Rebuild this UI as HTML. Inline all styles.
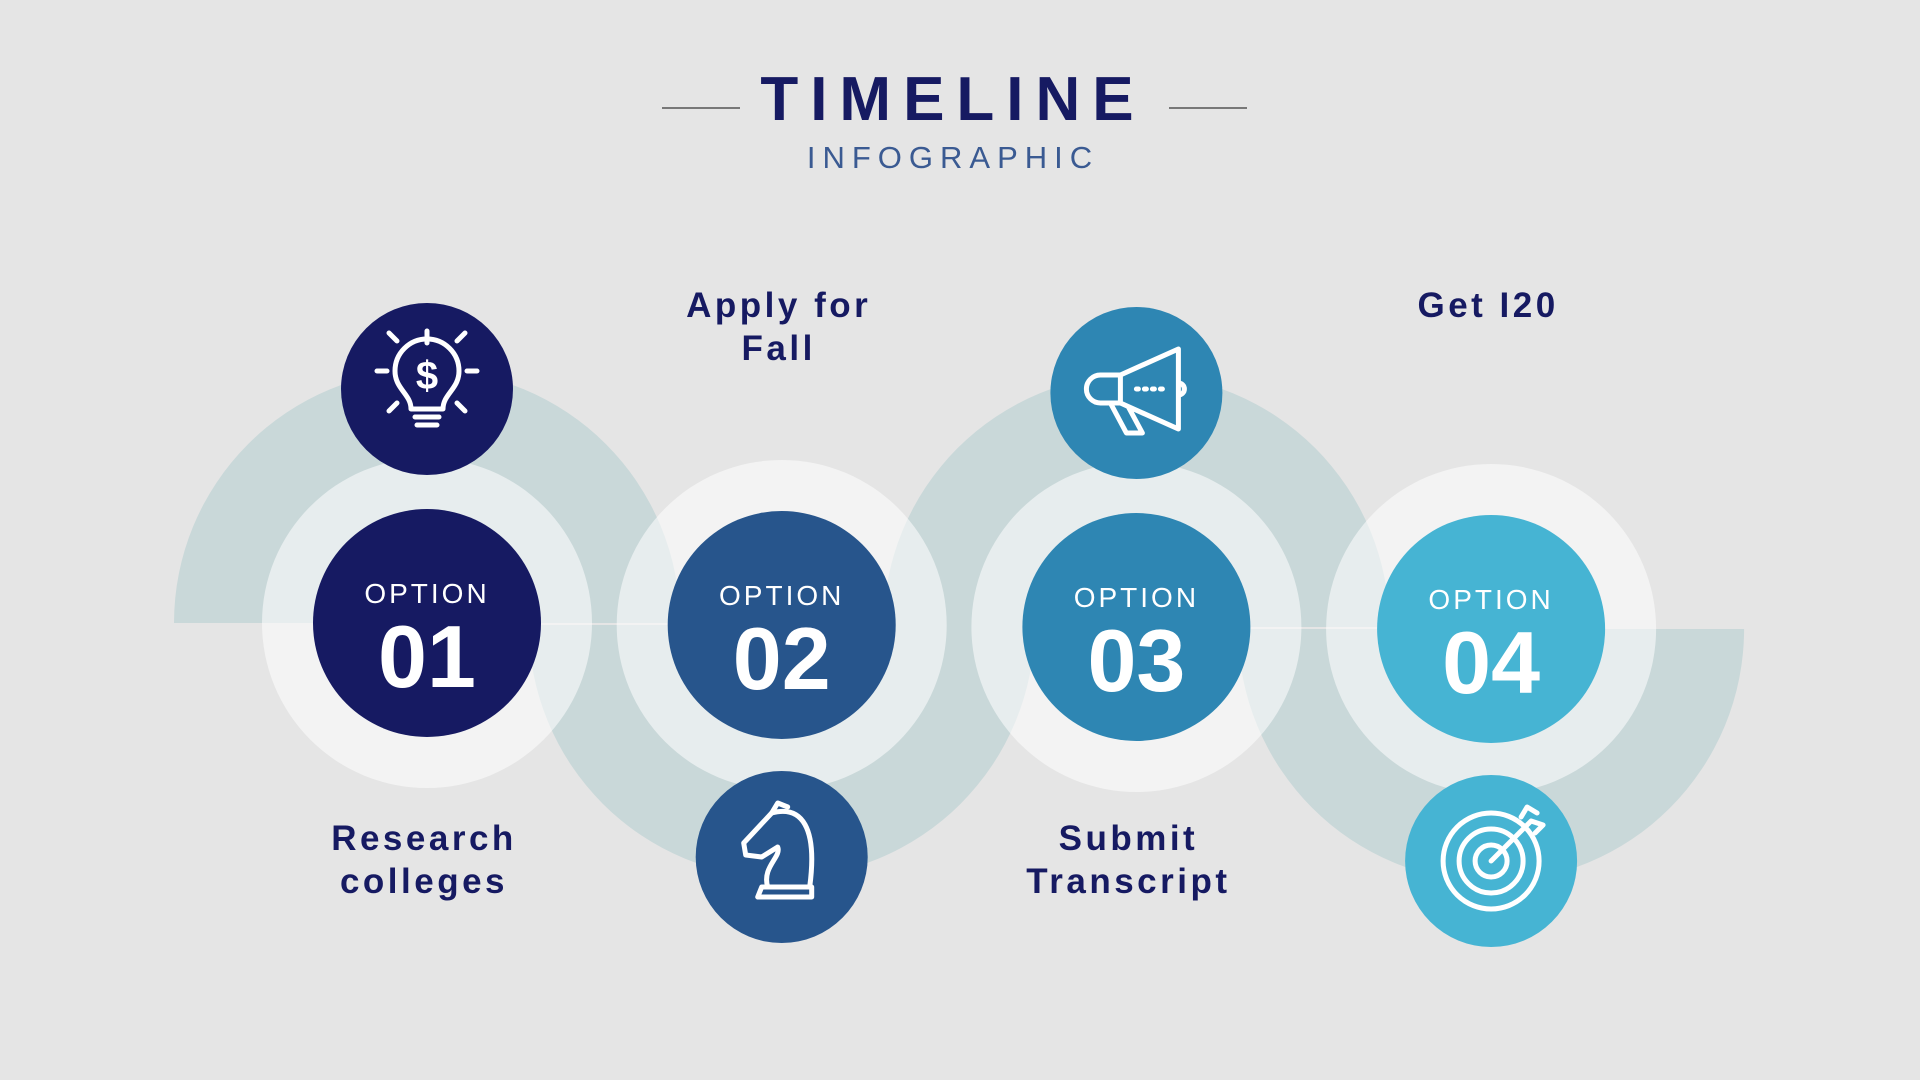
<!DOCTYPE html>
<html><head><meta charset="utf-8"><style>
html,body{margin:0;padding:0;background:#e5e5e5;}
svg{display:block;font-family:"Liberation Sans",sans-serif;}
</style></head><body>
<svg id="chart" width="1920" height="1080" viewBox="0 0 1920 1080">
<rect width="1920" height="1080" fill="#e5e5e5"/>
<line x1="662" y1="108" x2="740" y2="108" stroke="#555" stroke-width="1.5"/>
<line x1="1169" y1="108" x2="1247" y2="108" stroke="#555" stroke-width="1.5"/>
<text x="953" y="120" text-anchor="middle" font-size="62" font-weight="bold" fill="#161a62" letter-spacing="12">TIMELINE</text>
<text x="953" y="168" text-anchor="middle" font-size="31" fill="#3a5a92" letter-spacing="7">INFOGRAPHIC</text>
<g id="arcs"></g>
<g id="steps"></g>
</svg>
<script>
const optionNumbers = ["01","02","03","04"];
const stepLabels = [["Research","colleges"],["Apply for","Fall"],["Submit","Transcript"],["Get I20"]];
const stepColors = ["#161a62","#27558c","#2e86b3","#46b4d3"];
const NS="http://www.w3.org/2000/svg";
const cx=i=>427+i*354.7, cy=i=>623+i*2;
const arcs=document.getElementById('arcs'), steps=document.getElementById('steps');
function mk(tag,attrs,parent){const e=document.createElementNS(NS,tag);for(const k in attrs)e.setAttribute(k,attrs[k]);parent.appendChild(e);return e;}
const Ro=253,Ri=114;
optionNumbers.forEach((n,i)=>{
  const x=cx(i),y=cy(i),up=i%2===0;
  const d=`M${x-Ro},${y} A${Ro},${Ro} 0 0 ${up?1:0} ${x+Ro},${y} L${x+Ri},${y} A${Ri},${Ri} 0 0 ${up?0:1} ${x-Ri},${y} Z`;
  const a=mk('path',{d:d,fill:'#c9d8d9'},arcs);
  
  
});
optionNumbers.forEach((n,i)=>{
  const x=cx(i),y=cy(i),up=i%2===0;
  const g=mk('g',{},steps);
  
  
  const halo=mk('circle',{cx:x,cy:y,r:165,fill:'rgba(255,255,255,0.55)'},g);
  
  
  const c=mk('circle',{cx:x,cy:y,r:114,fill:stepColors[i]},g);
  
  
  const t1=mk('text',{x:x,y:y-20,'text-anchor':'middle','font-size':28,fill:'#fff','letter-spacing':3},g);
  t1.textContent='OPTION';
  
  
  const t2=mk('text',{x:x,y:y+64,'text-anchor':'middle','font-size':88,'font-weight':'bold',fill:'#fff'},g);
  t2.textContent=n;
  
  
  const iy=up?y-234:y+232;
  const ic=mk('circle',{cx:x,cy:iy,r:86,fill:stepColors[i]},g);
  
  
  const icon=mk('g',{fill:'none',stroke:'#fff','stroke-width':5,'stroke-linecap':'round','stroke-linejoin':'round',transform:`translate(${x},${iy})`},g);
  
  
  if(i===0){
    mk('path',{d:'M-16,20 C-16,5 -32,0 -32,-18 A32,32 0 1 1 32,-18 C32,0 16,5 16,20 Z'},icon);
    mk('path',{d:'M-12,28 H12 M-10,36 H10'},icon);
    mk('text',{x:0,y:0,'text-anchor':'middle','font-size':40,'font-weight':'bold',fill:'#fff',stroke:'none'},icon).textContent='$';
    mk('path',{d:'M0,-58 V-46 M-40,-18 H-50 M40,-18 H50 M-30,-48 L-38,-56 M30,-48 L38,-56 M-30,14 L-38,22 M30,14 L38,22'},icon);
  } else if(i===1){
    mk('path',{d:'M-24,40 H30 V30 H-20 Z M-14,30 C-20,10 0,0 -4,-10 L-20,0 L-36,-2 L-38,-14 L-10,-44 C20,-52 36,-30 28,30'},icon);
    mk('path',{d:'M-10,-44 L-4,-54 L6,-50'},icon);
  } else if(i===2){
    mk('path',{d:'M-16,-18 L42,-44 V36 L-16,10 Z M-16,-18 H-36 A14,14 0 0 0 -36,10 H-16 M-26,10 L-10,40 H6 L-8,14 M42,-10 A6,6 0 0 1 42,2'},icon);
    mk('path',{d:'M0,-4 H30','stroke-dasharray':'2 6'},icon);
  } else {
    mk('circle',{cx:0,cy:0,r:48},icon);mk('circle',{cx:0,cy:0,r:32},icon);mk('circle',{cx:0,cy:0,r:16},icon);
    mk('path',{d:'M0,0 L40,-40 M30,-44 L36,-54 L46,-48 M40,-40 L52,-36 L44,-28'},icon);
  }
  const lines=stepLabels[i];
  const ly=up?838:305;
  lines.forEach((ln,j)=>{
    const t=mk('text',{x:x-(i===2?8:3),y:ly+j*43+12,'text-anchor':'middle','font-size':35,'font-weight':'bold',fill:'#161a62','letter-spacing':3.5},g);
    t.textContent=ln;
    
    
  });
});
</script>
</body></html>
